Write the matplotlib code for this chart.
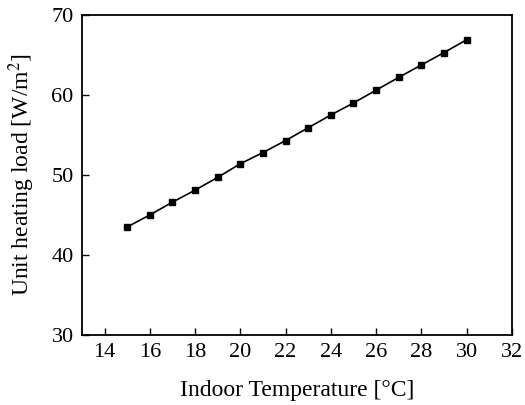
import numpy as np
import matplotlib
matplotlib.use("Agg")
import matplotlib.pyplot as plt

# indoor temperature (C) vs unit heating load (W/m2)
temp = [15, 16, 17, 18, 19, 20, 21, 22, 23, 24, 25, 26, 27, 28, 29, 30]
load = [43.5, 45.0, 46.6, 48.1, 49.7, 51.4, 52.8, 54.3, 55.9, 57.5,
        59.0, 60.6, 62.2, 63.75, 65.3, 66.9]

xticks = [14, 16, 18, 20, 22, 24, 26, 28, 30, 32]
yticks = [30, 40, 50, 60, 70]

plt.rcParams['font.family'] = ['Liberation Serif', 'DejaVu Serif']
plt.rcParams['mathtext.fontset'] = 'stix'

fig = plt.figure(figsize=(5.25, 4.05), dpi=100)
ax = fig.add_axes([0.156, 0.173, 0.819, 0.79])

ax.plot(temp, load, color='black', lw=1.2, marker='s', ms=5,
        mfc='black', mec='black')

ax.set_xlim(13, 32)
ax.set_ylim(30, 70)
ax.set_xticks(xticks)
ax.set_yticks(yticks)
ax.tick_params(direction='in', length=5, width=1, labelsize=16, pad=6)

for s in ax.spines.values():
    s.set_linewidth(1.3)

ax.set_xlabel('Indoor Temperature [°C]', fontsize=17, labelpad=13)
ax.set_ylabel('Unit heating load [W/m$^2$]', fontsize=17, labelpad=10)

fig.savefig('out.png', dpi=100)
